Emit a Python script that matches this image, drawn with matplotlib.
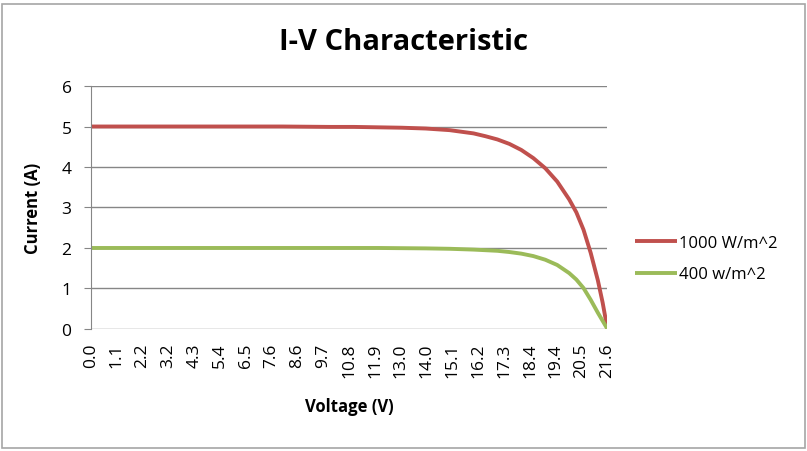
import matplotlib.pyplot as plt
from matplotlib.patches import Rectangle

plt.rcParams['font.family'] = ['Open Sans', 'DejaVu Sans']

# data
volt_1000 = [0, 2, 4, 6, 8, 10, 11, 12, 13, 14, 15, 16, 16.5, 17, 17.5, 18, 18.5, 19, 19.5, 20, 20.3, 20.6, 20.9, 21.2, 21.4, 21.6]
amp_1000 = [5.0, 5.0, 5.0, 5.0, 5.0, 4.99, 4.99, 4.98, 4.97, 4.95, 4.91, 4.83, 4.76, 4.68, 4.57, 4.42, 4.22, 3.97, 3.64, 3.20, 2.88, 2.45, 1.88, 1.20, 0.65, 0.0]

volt_400 = [0, 4, 8, 12, 14, 15, 16, 17, 17.5, 18, 18.5, 19, 19.5, 20, 20.3, 20.6, 20.9, 21.2, 21.4, 21.6]
amp_400 = [2.0, 2.0, 2.0, 2.0, 1.99, 1.98, 1.96, 1.93, 1.90, 1.86, 1.80, 1.71, 1.58, 1.38, 1.22, 1.01, 0.72, 0.40, 0.20, 0.0]

tick_v = [0.0, 1.08, 2.16, 3.24, 4.32, 5.4, 6.48, 7.56, 8.64, 9.72, 10.8,
          11.88, 12.96, 14.04, 15.12, 16.2, 17.28, 18.36, 19.44, 20.52, 21.6]
tick_labels = ["0.0", "1.1", "2.2", "3.2", "4.3", "5.4", "6.5", "7.6", "8.6", "9.7", "10.8",
               "11.9", "13.0", "14.0", "15.1", "16.2", "17.3", "18.4", "19.4", "20.5", "21.6"]

fig = plt.figure(figsize=(8.07, 4.52), dpi=100)
ax = fig.add_axes([0.1127, 0.270, 0.640, 0.5375])

# chart border
fig.patches.append(Rectangle((0.002, 0.006), 0.995, 0.983, transform=fig.transFigure,
                             fill=False, edgecolor="#a6a6a6", lw=1.2))

ax.plot(volt_1000, amp_1000, color="#c0504d", lw=2.8, label="1000 W/m^2", solid_capstyle="butt")
ax.plot(volt_400, amp_400, color="#9bbb59", lw=2.8, label="400 w/m^2", solid_capstyle="butt")

ax.set_xlim(0, 21.6)
ax.set_ylim(0, 6)
ax.set_yticks(range(7))
ax.set_xticks(tick_v)
ax.set_xticklabels(tick_labels, rotation=90)
ax.tick_params(axis="x", length=0, pad=10, labelsize=12.5)
ax.tick_params(axis="y", length=5, color="#868686", labelsize=12.5, pad=9)
ax.grid(axis="y", color="#868686", lw=1)
ax.set_axisbelow(True)
for s in ["top", "right", "bottom"]:
    ax.spines[s].set_visible(False)
ax.spines["left"].set_color("#868686")

fig.text(0.5, 0.905, "I-V Characteristic", fontsize=21, fontweight="bold", ha="center", va="center")
ax.set_xlabel("Voltage (V)", fontsize=12, fontweight="bold", labelpad=14)
ax.set_ylabel("Current (A)", fontsize=12, fontweight="bold", labelpad=14)

ax.legend(loc="center left", bbox_to_anchor=(1.025, 0.29), frameon=False,
          fontsize=12, handlelength=2.5, handletextpad=0.1, labelspacing=0.95)

fig.savefig("out.png", dpi=100)
